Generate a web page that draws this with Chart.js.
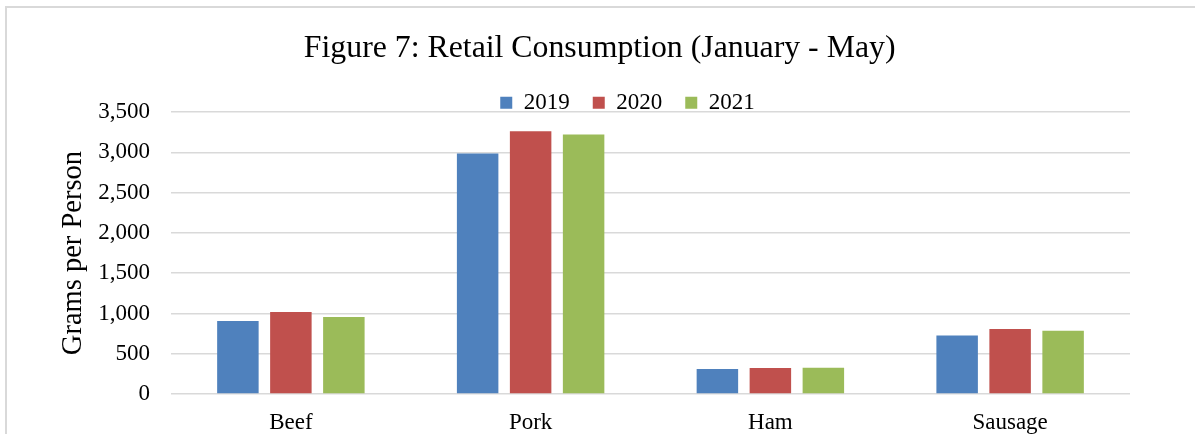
<!DOCTYPE html>
<html>
<head>
<meta charset="utf-8">
<script src="https://cdn.jsdelivr.net/npm/chart.js@4.4.1/dist/chart.umd.min.js"></script>
<style>
  html, body { margin: 0; padding: 0; background: #ffffff; overflow: hidden; }
  #wrap { position: relative; width: 1195px; height: 434px; overflow: hidden; }
  #frame { position: absolute; left: 5px; top: 6px; width: 2000px; height: 1000px;
           border: 2px solid #d9d9d9; box-sizing: border-box; }
  canvas { position: absolute; left: 0; top: 0; }
</style>
</head>
<body>
<div id="wrap">
  <div id="frame"></div>
  <canvas id="c" width="1195" height="434"></canvas>
</div>
<script>
const categories = ['Beef', 'Pork', 'Ham', 'Sausage'];
const seriesNames = ['2019', '2020', '2021'];
const values2019 = [905, 2987, 310, 728];
const values2020 = [1018, 3264, 323, 807];
const values2021 = [956, 3223, 327, 786];
const yTicks = [0, 500, 1000, 1500, 2000, 2500, 3000, 3500];
const colors = ['#4F81BD', '#C0504D', '#9BBB59'];

const serif = '"Liberation Serif", "Times New Roman", serif';
const allValues = [values2019, values2020, values2021];

new Chart(document.getElementById('c'), {
  type: 'bar',
  data: {
    labels: categories,
    datasets: seriesNames.map((name, i) => ({
      label: name,
      data: allValues[i],
      backgroundColor: colors[i],
      borderWidth: 0,
      categoryPercentage: 0.663,
      barPercentage: 0.783,
      yAxisID: 'y'
    }))
  },
  options: {
    responsive: false,
    animation: false,
    layout: { padding: { left: 60, right: 0, top: 0, bottom: 0 } },
    plugins: {
      title: {
        display: true,
        text: 'Figure 7: Retail Consumption (January - May)       ',
        color: '#000000',
        font: { family: serif, size: 31.8, weight: 'normal' },
        padding: { top: 30, bottom: 0 }
      },
      legend: {
        display: true,
        position: 'top',
        maxHeight: 44,
        labels: {
          color: '#000000',
          font: { family: serif, size: 23 },
          boxWidth: 12,
          boxHeight: 12,
          padding: 23
        }
      },
      tooltip: { enabled: false }
    },
    scales: {
      x: {
        grid: { display: false },
        border: { display: false },
        ticks: {
          color: '#000000',
          font: { family: serif, size: 23 },
          padding: 7,
          maxRotation: 0
        },
        afterFit: s => { s.height = 40; }
      },
      y: {
        position: 'left',
        min: 0,
        max: 3500,
        afterBuildTicks: s => { s.ticks = yTicks.map(v => ({ value: v })); },
        grid: { color: '#d9d9d9', lineWidth: 1.5, drawTicks: false },
        border: { display: false },
        ticks: {
          color: '#000000',
          font: { family: serif, size: 23 },
          padding: 21,
          callback: v => v.toLocaleString('en-US')
        },
        title: {
          display: true,
          text: 'Grams per Person',
          color: '#000000',
          font: { family: serif, size: 28.5, lineHeight: 1 },
          padding: { top: -1, bottom: 0 }
        },
        afterFit: s => { s.width = 111; }
      },
      yR: {
        position: 'right',
        display: true,
        min: 0,
        max: 1,
        grid: { display: false },
        border: { display: false },
        ticks: { display: false },
        afterFit: s => { s.width = 65; }
      }
    }
  }
});
</script>
</body>
</html>
